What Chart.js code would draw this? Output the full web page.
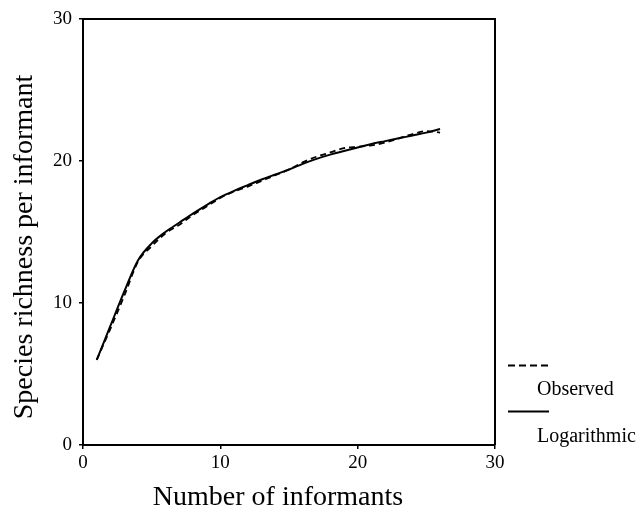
<!DOCTYPE html>
<html>
<head>
<meta charset="utf-8">
<script src="https://cdn.jsdelivr.net/npm/chart.js@4/dist/chart.umd.min.js"></script>
<style>
  html, body { margin: 0; padding: 0; background: #fff; }
  #wrap { width: 640px; height: 508px; }
</style>
</head>
<body>
<div id="wrap"><canvas id="c" width="640" height="508"></canvas></div>
<script>
const informants = [1,2,3,4,5,6,7,8,9,10,11,12,13,14,15,16,17,18,19,20,21,22,23,24,25,26];
const observed = [6.0, 8.2, 10.5, 12.9, 14.0, 14.9, 15.5, 16.2, 16.8, 17.4, 17.85, 18.2, 18.6, 19.0, 19.4, 19.9, 20.3, 20.6, 20.9, 21.0, 21.1, 21.3, 21.6, 21.9, 22.1, 22.0];
const logarithmic = [6.0, 8.4, 10.8, 13.0, 14.2, 15.0, 15.65, 16.3, 16.9, 17.45, 17.9, 18.3, 18.7, 19.05, 19.4, 19.8, 20.15, 20.45, 20.7, 20.95, 21.2, 21.4, 21.6, 21.8, 22.0, 22.25];
const xTicks = [0, 10, 20, 30];
const yTicks = [0, 10, 20, 30];
const seriesNames = ['Observed', 'Logarithmic'];
const xTitle = 'Number of informants';
const yTitle = 'Species richness per informant';

const FONT = '"Liberation Serif", "Times New Roman", serif';

const toPts = (ys) => informants.map((x, i) => ({ x: x, y: ys[i] }));

const decor = {
  id: 'decor',
  afterDraw(chart) {
    const { ctx, chartArea: a } = chart;
    ctx.save();
    ctx.strokeStyle = '#000';
    ctx.lineWidth = 2;
    ctx.beginPath();
    ctx.moveTo(a.left, a.top);
    ctx.lineTo(a.right, a.top);
    ctx.lineTo(a.right, a.bottom);
    ctx.stroke();

    // axis titles
    ctx.fillStyle = '#000';
    ctx.font = '28px ' + FONT;
    ctx.textAlign = 'center';
    ctx.textBaseline = 'alphabetic';
    ctx.fillText(xTitle, 278, 505);
    ctx.save();
    ctx.translate(32, 247);
    ctx.rotate(-Math.PI / 2);
    ctx.fillText(yTitle, 0, 0);
    ctx.restore();

    // legend
    ctx.font = '20px ' + FONT;
    ctx.textAlign = 'left';
    ctx.lineWidth = 2;
    ctx.setLineDash([7, 4]);
    ctx.beginPath();
    ctx.moveTo(508, 365.5);
    ctx.lineTo(549, 365.5);
    ctx.stroke();
    ctx.setLineDash([]);
    ctx.fillText(seriesNames[0], 537, 395);
    ctx.beginPath();
    ctx.moveTo(508, 411.5);
    ctx.lineTo(549, 411.5);
    ctx.stroke();
    ctx.fillText(seriesNames[1], 537, 441.5);
    ctx.restore();
  }
};

new Chart(document.getElementById('c'), {
  type: 'line',
  data: {
    datasets: [
      {
        label: seriesNames[0],
        data: toPts(observed),
        borderColor: '#000',
        borderWidth: 1.8,
        borderDash: [6, 4],
        pointRadius: 0,
        fill: false,
        cubicInterpolationMode: 'monotone'
      },
      {
        label: seriesNames[1],
        data: toPts(logarithmic),
        borderColor: '#000',
        borderWidth: 2,
        pointRadius: 0,
        fill: false,
        cubicInterpolationMode: 'monotone'
      }
    ]
  },
  options: {
    responsive: false,
    animation: false,
    layout: { padding: { left: 0, right: 145, top: 19, bottom: 0 } },
    plugins: { legend: { display: false }, tooltip: { enabled: false } },
    scales: {
      x: {
        type: 'linear',
        min: 0, max: 30,
        afterBuildTicks: (s) => { s.ticks = xTicks.map(v => ({ value: v })); },
        afterFit: (s) => { s.height = 63; },
        border: { display: true, color: '#000', width: 2 },
        grid: { drawOnChartArea: false, drawTicks: true, tickLength: 4, color: '#000', lineWidth: 1.5 },
        ticks: { color: '#000', font: { family: FONT, size: 19 }, padding: 3, maxRotation: 0 }
      },
      y: {
        type: 'linear',
        min: 0, max: 30,
        afterBuildTicks: (s) => { s.ticks = yTicks.map(v => ({ value: v })); },
        afterFit: (s) => { s.width = 83; },
        border: { display: true, color: '#000', width: 2 },
        grid: { drawOnChartArea: false, drawTicks: true, tickLength: 4, color: '#000', lineWidth: 1.5 },
        ticks: { color: '#000', font: { family: FONT, size: 19 }, padding: 7 }
      }
    }
  },
  plugins: [decor]
});
</script>
</body>
</html>
